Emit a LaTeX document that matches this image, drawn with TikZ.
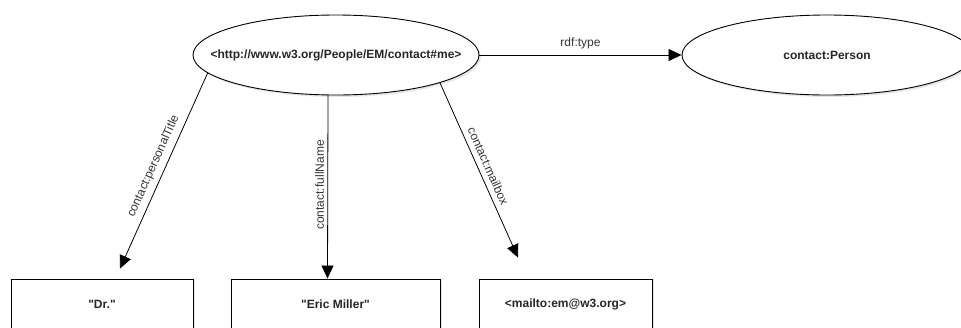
\documentclass[tikz,border=0pt]{standalone}
\usepackage{fontspec}
\setmainfont{Liberation Sans}
\usetikzlibrary{arrows.meta,positioning,calc,shapes.geometric,shadows}

\begin{document}
\begin{tikzpicture}[x=1pt,y=-1pt,
  font=\fontsize{12}{14}\selectfont,
  res/.style={ellipse,draw,line width=0.9pt,fill=white,minimum height=80pt,inner sep=0pt,
    font=\fontsize{12}{14}\selectfont\bfseries,text=black!85,
    drop shadow={shadow xshift=2pt,shadow yshift=-2pt,fill=black!20}},
  lit/.style={rectangle,draw,line width=0.9pt,fill=white,minimum height=50pt,inner sep=0pt,
    font=\fontsize{12}{14}\selectfont\bfseries,text=black!85,
    drop shadow={shadow xshift=2pt,shadow yshift=-2pt,fill=black!20}},
  rel/.style={-{Triangle[length=13pt,width=12pt]},line width=0.8pt},
  lab/.style={midway,sloped,above=2pt,text=black!80}]
  \useasboundingbox (0,0) rectangle (961,327);
  \node[res,minimum width=286pt,inner xsep=-26pt] (me) at (336,55) {<http://www.w3.org/People/EM/contact\#me>};
  \node[res,minimum width=290pt] (person) at (827,55) {contact:Person};
  \foreach \n/\x/\w/\txt in {dr/102/182/{\textquotedbl Dr.\textquotedbl},
      eric/335.5/209/{\textquotedbl Eric Miller\textquotedbl},mail/565.5/173/{<mailto:em@w3.org>}} {
    \node[lit,minimum width=\w pt] (\n) at (\x,304) {\txt};
  }
  \draw[rel] (me) -- node[lab]{rdf:type} (person);
  \draw[rel] (me.188) -- node[lab]{contact:personalTitle} ([shift={(18,-10)}]dr.north);
  \draw[rel] ([xshift=-8pt]me.south) -- node[midway,rotate=90,above=2pt,text=black!80]{contact:fullName} ([xshift=-8pt]eric.north);
  \draw[rel] (me.-15) -- node[lab]{contact:mailbox} ([shift={(-47.5,-21)}]mail.north);
\end{tikzpicture}
\end{document}
